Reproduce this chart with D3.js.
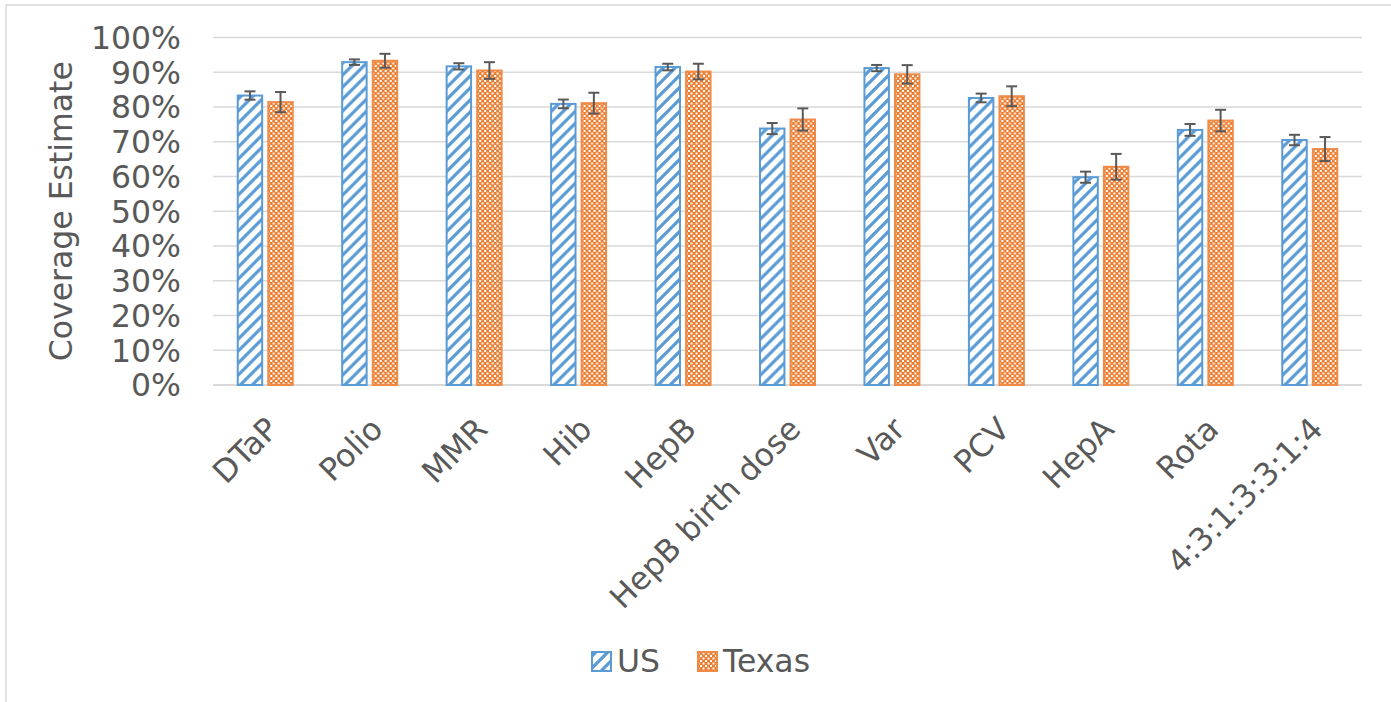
<!DOCTYPE html>
<html><head><meta charset="utf-8">
<script src="https://cdn.jsdelivr.net/npm/d3@7"></script>
<style>html,body{margin:0;padding:0;background:#fff;overflow:hidden}</style>
</head><body>
<svg id="chart" width="1391" height="702"></svg>
<script>
const categories = ["DTaP","Polio","MMR","Hib","HepB","HepB birth dose","Var","PCV","HepA","Rota","4:3:1:3:3:1:4"];
const seriesNames = ["US","Texas"];
const usValues    = [83.3, 92.9, 91.7, 80.9, 91.5, 73.8, 91.2, 82.6, 59.8, 73.4, 70.5];
const usErrors    = [1.2, 0.8, 0.9, 1.25, 0.95, 1.6, 0.9, 1.25, 1.6, 1.7, 1.5];
const texasValues = [81.4, 93.3, 90.5, 81.1, 90.2, 76.4, 89.4, 83.1, 62.8, 76.1, 67.9];
const texasErrors = [2.9, 2.0, 2.4, 3.0, 2.25, 3.2, 2.65, 2.85, 3.7, 3.1, 3.45];
const yTicks = [0,10,20,30,40,50,60,70,80,90,100];
const yTitle = "Coverage Estimate";

const svg = d3.select("#chart");
const FONT = "'DejaVu Sans', Verdana, sans-serif";
const TXT = "#595959";
const plot = {left:213, right:1362, top:37.5, bottom:385};

// frame
svg.append("path").attr("d","M6,702 L6,5 L1391,5").attr("fill","none").attr("stroke","#d9d9d9").attr("stroke-width",1.5);

// patterns
const defs = svg.append("defs");
const stripe = defs.append("pattern").attr("id","stripe").attr("patternUnits","userSpaceOnUse")
  .attr("width",12).attr("height",12);
stripe.append("rect").attr("width",12).attr("height",12).attr("fill","#fff");
stripe.append("path").attr("d","M-3,3 L3,-3 M0,12 L12,0 M9,15 L15,9")
  .attr("stroke","#5b9bd5").attr("stroke-width",3.2);
const check = defs.append("pattern").attr("id","check").attr("patternUnits","userSpaceOnUse")
  .attr("width",5).attr("height",5);
check.append("rect").attr("width",5).attr("height",5).attr("fill","#ed7d31");
check.append("rect").attr("x",0).attr("y",0).attr("width",2).attr("height",2).attr("fill","#ffffff");
check.append("rect").attr("x",2.5).attr("y",2.5).attr("width",2).attr("height",2).attr("fill","#ffffff");

const x0 = d3.scaleBand().domain(categories).range([plot.left, plot.right]).paddingInner(0).paddingOuter(0);
const x1 = d3.scaleBand().domain(seriesNames).range([-27.5, 27.5]).paddingInner(0.2);
const y = d3.scaleLinear().domain([0,100]).range([plot.bottom, plot.top]);

// gridlines
svg.append("g").selectAll("line").data(yTicks).join("line")
  .attr("x1",plot.left).attr("x2",plot.right)
  .attr("y1",d=>y(d)).attr("y2",d=>y(d))
  .attr("stroke","#d9d9d9").attr("stroke-width",d=>d===0?2:1.5);

// y labels
svg.append("g").selectAll("text").data(yTicks).join("text")
  .attr("x",181).attr("y",d=>y(d)).attr("dy","0.36em")
  .attr("text-anchor","end").attr("font-family",FONT).attr("font-size",31.5).attr("fill",TXT)
  .text(d=>d+"%");

// y title
svg.append("text").attr("transform",`translate(72,${(plot.top+plot.bottom)/2}) rotate(-90)`)
  .attr("text-anchor","middle").attr("font-family",FONT).attr("font-size",31.5).attr("fill",TXT)
  .text(yTitle);

const data = categories.map((c,i)=>({c, vals:[
  {s:"US", v:usValues[i], e:usErrors[i]},
  {s:"Texas", v:texasValues[i], e:texasErrors[i]}]}));

const groups = svg.append("g").selectAll("g").data(data).join("g")
  .attr("transform",d=>`translate(${x0(d.c)+x0.bandwidth()/2},0)`);

groups.selectAll("rect").data(d=>d.vals).join("rect")
  .attr("x",d=>x1(d.s)).attr("width",x1.bandwidth())
  .attr("y",d=>y(d.v)).attr("height",d=>y(0)-y(d.v))
  .attr("fill",d=>d.s==="US"?"url(#stripe)":"url(#check)")
  .attr("stroke",d=>d.s==="US"?"#5b9bd5":"#ef8a47").attr("stroke-width",2);

const eb = groups.selectAll("g.eb").data(d=>d.vals).join("g").attr("class","eb")
  .attr("transform",d=>`translate(${x1(d.s)+x1.bandwidth()/2},0)`);
eb.append("line").attr("x1",0).attr("x2",0).attr("y1",d=>y(d.v+d.e)).attr("y2",d=>y(d.v-d.e))
  .attr("stroke","#595959").attr("stroke-width",2);
eb.append("line").attr("x1",-5.5).attr("x2",5.5).attr("y1",d=>y(d.v+d.e)).attr("y2",d=>y(d.v+d.e))
  .attr("stroke","#595959").attr("stroke-width",2);
eb.append("line").attr("x1",-5.5).attr("x2",5.5).attr("y1",d=>y(d.v-d.e)).attr("y2",d=>y(d.v-d.e))
  .attr("stroke","#595959").attr("stroke-width",2);

// x labels
svg.append("g").selectAll("text").data(categories).join("text")
  .attr("transform",d=>`translate(${x0(d)+x0.bandwidth()/2+15},431) rotate(-45)`)
  .attr("text-anchor","end").attr("font-family",FONT).attr("font-size",31.5).attr("fill",TXT)
  .text(d=>d);

// legend
const legend = svg.append("g");
const legendItems = [{s:"US", x:592, fill:"url(#stripe)", stroke:"#5b9bd5"},{s:"Texas", x:698, fill:"url(#check)", stroke:"#ef8a47"}];
legend.selectAll("rect").data(legendItems).join("rect")
  .attr("x",d=>d.x).attr("y",652).attr("width",19).attr("height",19)
  .attr("fill",d=>d.fill).attr("stroke",d=>d.stroke).attr("stroke-width",2);
legend.selectAll("text").data(legendItems).join("text")
  .attr("x",d=>d.x+25).attr("y",672).attr("font-family",FONT).attr("font-size",31.5).attr("fill",TXT)
  .text(d=>d.s);
</script>
</body></html>
